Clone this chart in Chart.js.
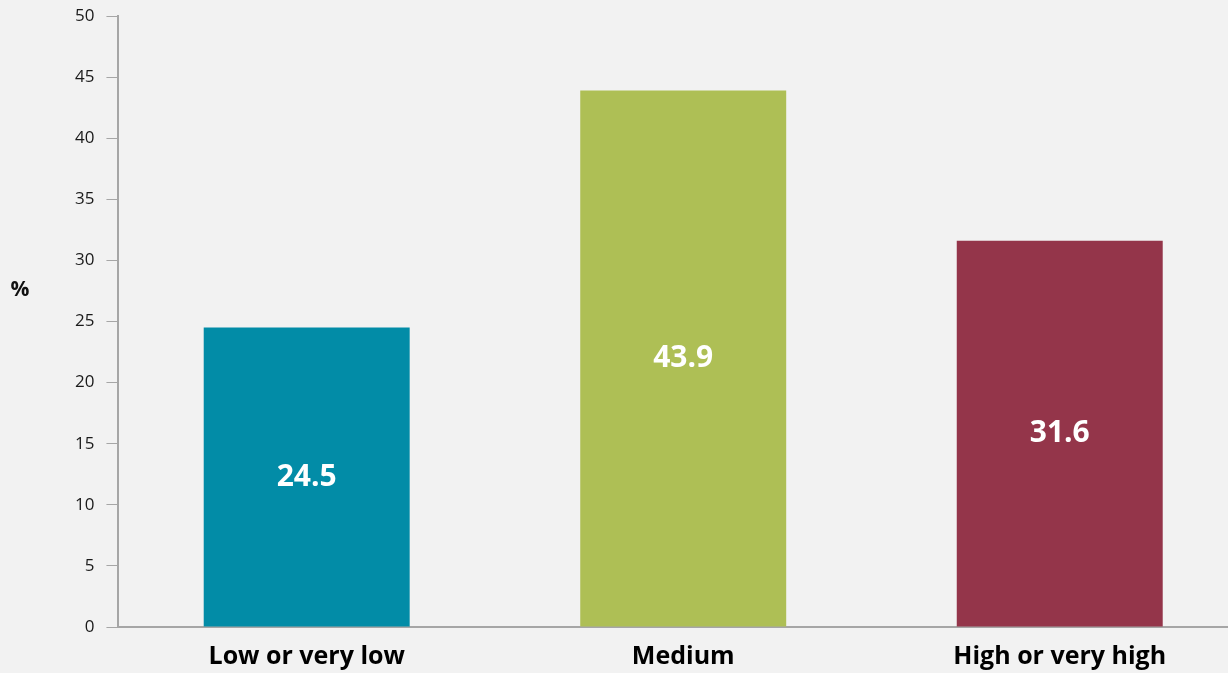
<!DOCTYPE html>
<html>
<head>
<meta charset="utf-8">
<script src="https://cdn.jsdelivr.net/npm/chart.js@4.4.1/dist/chart.umd.min.js"></script>
<style>
  html, body { margin: 0; padding: 0; background: #f2f2f2; overflow: hidden; }
  #wrap { width: 1250px; height: 673px; }
</style>
</head>
<body>
<div id="wrap"><canvas id="myChart"></canvas></div>
<script>
// rating groups and their shares
const categories = ['Low or very low', 'Medium', 'High or very high'];
const shares = [24.5, 43.9, 31.6];
const barColors = ['#028ca7', '#aebf55', '#94354a'];
const yTicks = [0, 5, 10, 15, 20, 25, 30, 35, 40, 45, 50];

// white value labels in the middle of each bar, plus the "%" axis label
const barLabels = {
  id: 'barLabels',
  afterDatasetsDraw(chart) {
    const ctx = chart.ctx;
    ctx.save();
    ctx.fillStyle = '#ffffff';
    ctx.font = 'bold 30px "Open Sans"';
    ctx.textAlign = 'center';
    ctx.textBaseline = 'middle';
    chart.getDatasetMeta(0).data.forEach((bar, i) => {
      ctx.fillText(shares[i].toFixed(1), bar.x, (bar.y + bar.base) / 2);
    });
    ctx.fillStyle = '#111111';
    ctx.font = 'bold 21px "Open Sans"';
    ctx.fillText('%', 20, 290);
    ctx.restore();
  }
};

const ctx = document.getElementById('myChart').getContext('2d');
new Chart(ctx, {
  type: 'bar',
  data: {
    labels: categories,
    datasets: [{
      data: shares,
      backgroundColor: barColors,
      barPercentage: 0.547,
      categoryPercentage: 1
    }]
  },
  options: {
    responsive: true,
    maintainAspectRatio: false,
    animation: false,
    layout: { padding: { top: 16, right: 2, left: 63, bottom: -6 } },
    plugins: { legend: { display: false }, tooltip: { enabled: false } },
    scales: {
      x: {
        grid: { display: false },
        border: { color: '#a6a6a6', width: 2 },
        ticks: {
          color: '#000000',
          font: { family: '"Open Sans"', size: 25, weight: 'bold' },
          padding: 7
        }
      },
      y: {
        min: 0,
        max: 50,
        afterBuildTicks(axis) {
          axis.ticks = yTicks.map(v => ({ value: v }));
        },
        afterFit(axis) {
          axis.paddingTop = 0;
        },
        grid: { drawOnChartArea: false, color: '#a6a6a6', tickLength: 12 },
        border: { color: '#a6a6a6', width: 2 },
        ticks: {
          color: '#1a1a1a',
          font: { family: '"Open Sans"', size: 17 },
          padding: 12
        }
      }
    }
  },
  plugins: [barLabels]
});
</script>
</body>
</html>
